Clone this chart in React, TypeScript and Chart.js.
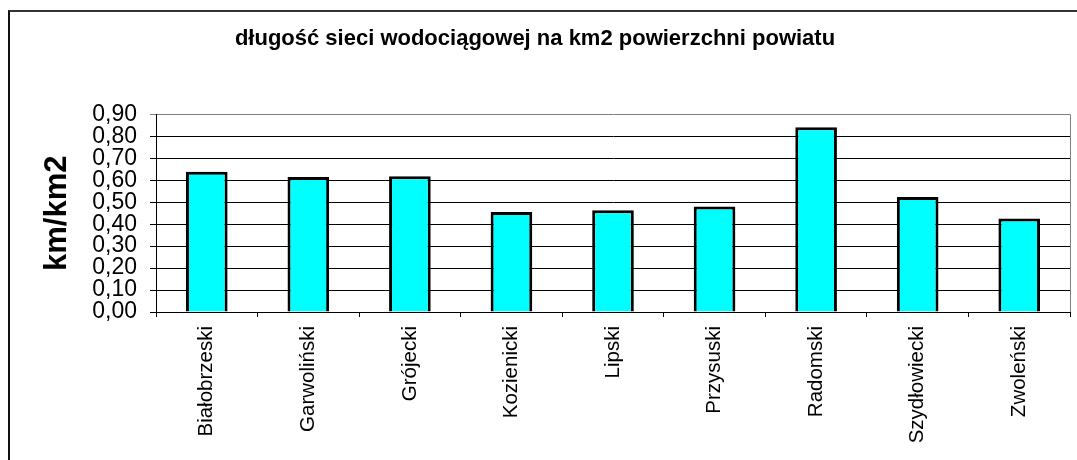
import React, { useEffect, useRef } from 'react';
import { Chart, registerables } from 'chart.js';

Chart.register(...registerables);

const categories = [
  'Białobrzeski',
  'Garwoliński',
  'Grójecki',
  'Kozienicki',
  'Lipski',
  'Przysuski',
  'Radomski',
  'Szydłowiecki',
  'Zwoleński',
];
const values = [0.639, 0.615, 0.618, 0.455, 0.464, 0.48, 0.842, 0.524, 0.426];
const yTickLabels = ['0,00', '0,10', '0,20', '0,30', '0,40', '0,50', '0,60', '0,70', '0,80', '0,90'];
const chartTitle = 'długość sieci wodociągowej na km2 powierzchni powiatu';
const yAxisTitle = 'km/km2';

const FONT = "'Liberation Sans', Arial, sans-serif";

const plotBorder = {
  id: 'plotBorder',
  afterDatasetsDraw(chart: any) {
    const { ctx, chartArea } = chart;
    ctx.save();
    ctx.strokeStyle = '#808080';
    ctx.lineWidth = 1;
    ctx.beginPath();
    const x = Math.round(chartArea.right) + 0.5;
    ctx.moveTo(x, chartArea.top);
    ctx.lineTo(x, chartArea.bottom);
    ctx.stroke();
    ctx.restore();
  },
};

export default function App() {
  const ref = useRef<HTMLCanvasElement | null>(null);

  useEffect(() => {
    if (!ref.current) return;
    const chart = new Chart(ref.current, {
      type: 'bar',
      data: {
        labels: categories,
        datasets: [
          {
            data: values,
            backgroundColor: '#00FFFF',
            borderColor: '#000000',
            borderWidth: 3,
            barPercentage: 0.41,
            categoryPercentage: 1,
          },
        ],
      },
      options: {
        animation: false,
        responsive: false,
        devicePixelRatio: 1,
        layout: { padding: { left: 0, right: 7, top: 0, bottom: 0 } },
        plugins: {
          legend: { display: false },
          tooltip: { enabled: false },
          title: {
            display: true,
            text: chartTitle,
            color: '#000',
            font: { family: FONT, size: 22, weight: 'bold' },
            padding: { top: 26, bottom: 62 },
          },
        },
        scales: {
          x: {
            offset: true,
            border: { display: true, color: '#000', width: 1 },
            grid: {
              display: true,
              drawOnChartArea: false,
              drawTicks: true,
              tickLength: 5,
              color: '#000',
              offset: true,
            },
            ticks: {
              autoSkip: false,
              maxRotation: 90,
              minRotation: 90,
              padding: 9,
              color: '#000',
              font: { family: FONT, size: 20.5 },
            },
            afterFit: (s: any) => {
              s.height = 148;
            },
          },
          y: {
            min: 0,
            max: 0.9,
            border: { display: true, color: '#000', width: 1 },
            grid: {
              color: (c: any) =>
                c.tick && Math.abs(c.tick.value - 0.9) < 1e-6 ? '#808080' : '#000',
              lineWidth: 1,
              tickLength: 6,
              drawTicks: true,
            },
            ticks: {
              stepSize: 0.1,
              autoSkip: false,
              padding: 13,
              color: '#000',
              font: { family: FONT, size: 23 },
              callback: (_v: any, i: number) => yTickLabels[i],
            },
            title: {
              display: true,
              text: yAxisTitle,
              color: '#000',
              font: { family: FONT, size: 31, weight: 'bold' },
              padding: { top: 39, bottom: 0 },
            },
            afterFit: (s: any) => {
              s.width = 156;
            },
          },
        },
      },
      plugins: [plotBorder],
    });
    return () => chart.destroy();
  }, []);

  return (
    <div style={{ position: 'absolute', left: 0, top: 0, width: 1077, height: 460, overflow: 'hidden', background: '#fff' }}>
      <div
        style={{
          position: 'absolute',
          left: 8,
          top: 10,
          width: 1100,
          height: 500,
          borderLeft: '2px solid #111',
          borderTop: '2px solid #333',
        }}
      />
      <canvas ref={ref} width={1077} height={460} style={{ position: 'absolute', left: 0, top: 0, display: 'block' }} />
    </div>
  );
}
